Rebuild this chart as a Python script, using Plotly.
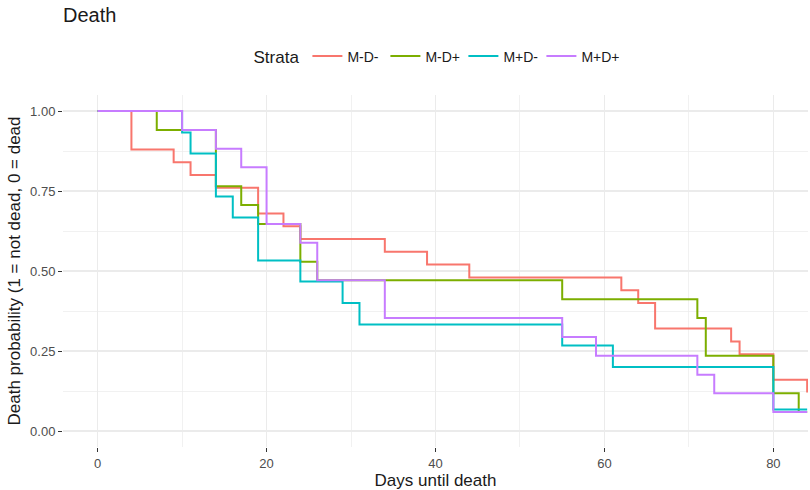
import plotly.graph_objects as go

# ---- data (Kaplan-Meier style step curves) ----
strata = ["M-D-", "M-D+", "M+D-", "M+D+"]
colors = ["#F8766D", "#7CAE00", "#00BFC4", "#C77CFF"]

days_mdm = [0, 4, 9, 11, 14, 19, 22, 24, 34, 39, 44, 62, 64, 66, 75, 76, 80, 84]
surv_mdm = [1.0, 0.88, 0.84, 0.80, 0.76, 0.68, 0.64, 0.60, 0.56, 0.52, 0.48, 0.44, 0.40, 0.32, 0.28, 0.24, 0.16, 0.12]

days_mdp = [0, 7, 14, 17, 19, 24, 26, 55, 71, 72, 80, 83, 84]
surv_mdp = [1.0, 0.941, 0.765, 0.706, 0.647, 0.529, 0.471, 0.412, 0.353, 0.235, 0.118, 0.059, 0.059]

days_pdm = [0, 10, 11, 14, 16, 19, 24, 29, 31, 55, 61, 80, 84]
surv_pdm = [1.0, 0.933, 0.867, 0.733, 0.667, 0.533, 0.467, 0.400, 0.333, 0.267, 0.200, 0.067, 0.067]

days_pdp = [0, 10, 14, 17, 20, 24, 26, 34, 55, 59, 71, 73, 80, 84]
surv_pdp = [1.0, 0.941, 0.882, 0.824, 0.647, 0.588, 0.471, 0.353, 0.294, 0.235, 0.176, 0.118, 0.059, 0.059]

x_ticks = [0, 20, 40, 60, 80]
y_ticks = [0.0, 0.25, 0.50, 0.75, 1.0]

series = [
    (days_mdm, surv_mdm),
    (days_mdp, surv_mdp),
    (days_pdm, surv_pdm),
    (days_pdp, surv_pdp),
]

FONT = "Liberation Sans, Arial, sans-serif"
GRID = "#EBEBEB"

fig = go.Figure()
for name, color, (xs, ys) in zip(strata, colors, series):
    fig.add_trace(go.Scatter(
        x=xs, y=ys, name=name, mode="lines",
        line=dict(color=color, width=2, shape="hv"),
        hoverinfo="skip",
    ))

fig.update_layout(
    width=810, height=490,
    margin=dict(l=63, r=2, t=95, b=43),
    paper_bgcolor="white", plot_bgcolor="white",
    font=dict(family=FONT, color="#1A1A1A"),
    title=dict(text="Death", font=dict(size=20, color="#1A1A1A", family=FONT),
               x=63 / 810, xanchor="left", xref="container",
               y=1 - 15 / 490, yanchor="middle", yref="container"),
    legend=dict(
        orientation="h", x=0.5, xanchor="center",
        y=1.108, yanchor="middle",
        title=dict(text="Strata", font=dict(size=17, color="#1A1A1A"), side="left"),
        font=dict(size=14, color="#1A1A1A"),
        itemwidth=30, entrywidth=33, entrywidthmode="pixels",
        bgcolor="rgba(0,0,0,0)",
    ),
    showlegend=True,
)

fig.update_xaxes(
    range=[-4.1, 84.1],
    tickvals=x_ticks, ticktext=[str(v) for v in x_ticks],
    ticks="outside", ticklen=4, tickwidth=1, tickcolor="#333333",
    tickfont=dict(size=13, color="#4D4D4D"),
    showgrid=True, gridcolor=GRID, gridwidth=1.2,
    minor=dict(dtick=10, tick0=0, showgrid=True, gridcolor=GRID, gridwidth=0.7),
    zeroline=False, showline=False,
    title=dict(text="Days until death", font=dict(size=17, color="#1A1A1A"), standoff=6),
)

fig.update_yaxes(
    range=[-0.05, 1.05],
    tickvals=y_ticks, tickformat=".2f",
    ticks="outside", ticklen=4, tickwidth=1, tickcolor="#333333",
    tickfont=dict(size=13, color="#4D4D4D"),
    showgrid=True, gridcolor=GRID, gridwidth=1.2,
    minor=dict(dtick=0.125, tick0=0, showgrid=True, gridcolor=GRID, gridwidth=0.7),
    zeroline=False, showline=False,
    title=dict(text="Death probability (1 = not dead, 0 = dead", font=dict(size=17, color="#1A1A1A"), standoff=5),
)

fig.write_html(
    "out.html",
    config={"displayModeBar": False, "staticPlot": True},
    post_script="document.body.style.margin='0';document.body.style.overflow='hidden';",
)
